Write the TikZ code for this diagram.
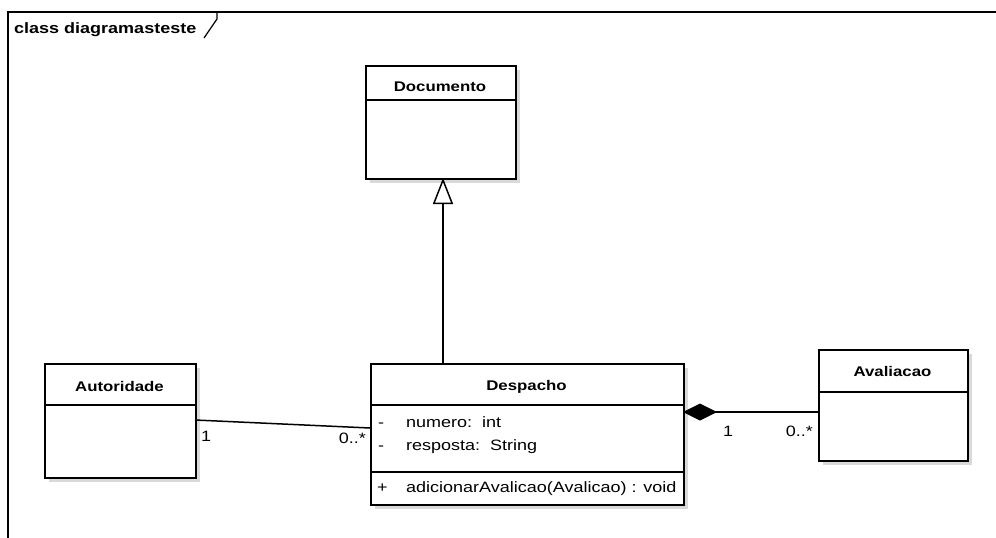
\documentclass[tikz,border=0pt]{standalone}
\usepackage{fontspec}
\setmainfont{Liberation Sans}[FakeStretch=1.2]
\usetikzlibrary{arrows.meta,calc}
\begin{document}
\begin{tikzpicture}[x=1pt,y=-1pt,
  classbox/.style={draw, line width=2pt, fill=white, inner sep=0pt, anchor=north west},
  boxshadow/.style={fill=gray!30},
  divider/.style={line width=2pt},
  ctitle/.style={font=\fontsize{14}{16}\selectfont\bfseries, inner sep=0pt},
  member/.style={font=\fontsize{15}{17}\selectfont, inner sep=0pt, anchor=base west},
  mult/.style={font=\fontsize{15}{17}\selectfont, inner sep=0pt, anchor=base west},
  conn/.style={line width=1.5pt},
  frameline/.style={line width=2pt}
]
\useasboundingbox (0,0) rectangle (996,538);
\fill[white] (0,0) rectangle (996,538);

% frame
\draw[frameline] (8,538) -- (8,12) -- (996,12);
\node[font=\fontsize{15}{17}\selectfont\bfseries, inner sep=0pt, anchor=base west] (frametitle) at (14,33) {class diagramasteste};
\draw[line width=1.2pt] (217,13) -- (217,19) -- (204,38);

% shadows
\fill[boxshadow] (370,70) rectangle (520,183);
\fill[boxshadow] (49,368) rectangle (200,482);
\fill[boxshadow] (375,368) rectangle (688,509);
\fill[boxshadow] (823,354) rectangle (972,465);

% Documento
\node[classbox, minimum width=150pt, minimum height=113pt] (doc) at (365,65) {};
\draw[divider] (doc.west |- 0,100) -- (doc.east |- 0,100);
\node[ctitle] (doctitle) at (440,87) {Documento};

% Autoridade
\node[classbox, minimum width=151pt, minimum height=114pt] (aut) at (44,363) {};
\draw[divider] (aut.west |- 0,405) -- (aut.east |- 0,405);
\node[ctitle] (auttitle) at (119.5,386) {Autoridade};

% Despacho
\node[classbox, minimum width=313pt, minimum height=141pt] (desp) at (370,363) {};
\draw[divider] (desp.west |- 0,405) -- (desp.east |- 0,405);
\draw[divider] (desp.west |- 0,472) -- (desp.east |- 0,472);
\node[ctitle] (desptitle) at (526.5,387) {Despacho};
\node[member] (m1s) at (378,427) {-};
\node[member] (m1) at (406,427) {numero:\ \ int};
\node[member] (m2s) at (378,450) {-};
\node[member] (m2) at (406,450) {resposta:\ \ String};
\node[member] (m3s) at (377,492) {+};
\node[member] (m3) at (406,492) {adicionarAvalicao(Avalicao) : void};

% Avaliacao
\node[classbox, minimum width=149pt, minimum height=111pt] (ava) at (818,349) {};
\draw[divider] (ava.west |- 0,392) -- (ava.east |- 0,392);
\node[ctitle] (avatitle) at (892.5,371) {Avaliacao};

% generalization
\coordinate (despTop) at (443,363);
\coordinate (docBot) at (443,178);
\draw[conn, -{Triangle[open, length=26pt, width=20pt, line width=1.5pt]}] (despTop) -- (docBot);

% association Autoridade - Despacho
\coordinate (autR) at (195,420);
\coordinate (despL) at (370,428);
\draw[conn] (autR) -- (despL);
\node[mult] (m_aut) at (201,441) {1};
\node[mult, anchor=base east] (m_desp) at (366,443) {0..*};

% composition Despacho - Avaliacao
\coordinate (despR) at (683,412);
\coordinate (avaL) at (818,412);
\draw[conn, {Diamond[length=34pt, width=17pt]}-] (despR) -- (avaL);
\node[mult] (m_d1) at (723,436) {1};
\node[mult, anchor=base east] (m_d2) at (813,436) {0..*};
\end{tikzpicture}
\end{document}
